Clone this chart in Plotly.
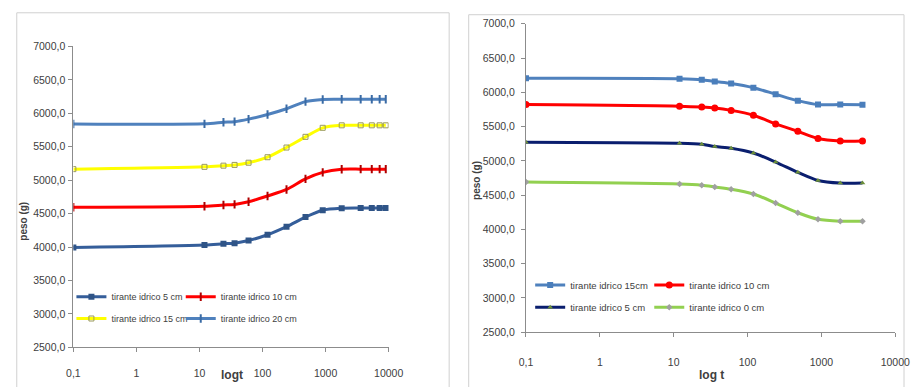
import plotly.graph_objects as go

W, H = 920, 387

# ---------------- data ----------------
# left chart
t_left = [0.1, 12, 24, 36, 60, 120, 240, 480, 900, 1800, 3600, 5400, 7200, 9000]
left_5cm = [3995, 4030, 4050, 4058, 4097, 4184, 4304, 4449, 4551, 4580, 4583, 4585, 4585, 4585]
left_10cm = [4595, 4609, 4629, 4638, 4677, 4764, 4861, 5020, 5116, 5163, 5165, 5165, 5165, 5165]
left_15cm = [5165, 5199, 5217, 5228, 5261, 5343, 5488, 5648, 5783, 5820, 5820, 5820, 5820, 5820]
left_20cm = [5840, 5842, 5865, 5875, 5913, 5981, 6068, 6174, 6207, 6210, 6210, 6210, 6210, 6210]

# right chart
t_right = [0.1, 12, 24, 36, 60, 120, 240, 480, 900, 1800, 3600]
right_15cm = [6205, 6199, 6184, 6156, 6128, 6067, 5972, 5878, 5821, 5821, 5820]
right_10cm = [5821, 5798, 5784, 5770, 5736, 5666, 5539, 5431, 5327, 5290, 5290]
right_5cm = [5270, 5256, 5242, 5209, 5185, 5115, 4983, 4832, 4714, 4676, 4676]
right_0cm = [4690, 4662, 4644, 4620, 4587, 4517, 4385, 4243, 4148, 4120, 4120]

y_ticks = [2500, 3000, 3500, 4000, 4500, 5000, 5500, 6000, 6500, 7000]
y_tick_text = ["2500,0", "3000,0", "3500,0", "4000,0", "4500,0", "5000,0", "5500,0", "6000,0", "6500,0", "7000,0"]
x_ticks = [0.1, 1, 10, 100, 1000, 10000]
x_tick_text = ["0,1", "1", "10", "100", "1000", "10000"]

FONT = "Liberation Sans, Arial, sans-serif"
TXT = "#404040"


def px(x):
    return x / W


def py(y):
    return 1 - y / H


fig = go.Figure()

left_series = [
    ("tirante idrico 5 cm", left_5cm, "#355E9A", dict(symbol="square", size=6, color="#2F5487"), "legend", (66, 300), 9),
    ("tirante idrico 10 cm", left_10cm, "#FF0000", dict(symbol="line-ns", size=6, color="#B00000", line=dict(width=2, color="#B00000")), "legend2", (178, 300), 9),
    ("tirante idrico 15 cm", left_15cm, "#FFFF00", dict(symbol="square-open", size=5, color="#9A9A5A", line=dict(width=1, color="#9A9A5A")), "legend3", (66, 322.5), 9),
    ("tirante idrico 20 cm", left_20cm, "#4F81BD", dict(symbol="line-ns", size=6, color="#3A6BA5", line=dict(width=2, color="#3A6BA5")), "legend4", (178, 322.5), 9),
]
for name, ys, col, mk, lg, _, _ in left_series:
    fig.add_trace(go.Scatter(x=t_left, y=ys, name=name, mode="lines+markers",
                             line=dict(color=col, width=3, shape="spline", smoothing=0.8),
                             marker=mk, xaxis="x", yaxis="y", legend=lg))

right_series = [
    ("tirante idrico 15cm", right_15cm, "#4F81BD", dict(symbol="square", size=6, color="#4A7EBB"), "legend5", (536, 288), 9.5),
    ("tirante idrico 10 cm", right_10cm, "#FF0000", dict(symbol="circle", size=7, color="#FF0000"), "legend6", (658, 288), 9.5),
    ("tirante idrico 5 cm", right_5cm, "#0A1E6E", dict(symbol="triangle-up", size=5, color="#6B8E3A"), "legend7", (536, 311), 9.5),
    ("tirante idrico 0 cm", right_0cm, "#92D050", dict(symbol="diamond", size=5, color="#A0A0A0"), "legend8", (658, 311), 9.5),
]
for name, ys, col, mk, lg, _, _ in right_series:
    fig.add_trace(go.Scatter(x=t_right, y=ys, name=name, mode="lines+markers",
                             line=dict(color=col, width=3, shape="spline", smoothing=0.8),
                             marker=mk, xaxis="x2", yaxis="y2", legend=lg))

axis_common = dict(showgrid=False, zeroline=False, showline=True, linecolor="#8C8C8C", linewidth=1,
                   ticks="outside", ticklen=4, tickcolor="#8C8C8C",
                   tickfont=dict(family=FONT, size=10.5, color=TXT))

fig.update_layout(
    width=W, height=H,
    margin=dict(l=0, r=0, t=0, b=0),
    paper_bgcolor="white", plot_bgcolor="white",
    showlegend=True,
    xaxis=dict(type="log", range=[-1, 4], domain=[px(68), px(391)], anchor="y",
               tickvals=x_ticks, ticktext=x_tick_text, ticklabelstandoff=12, **axis_common),
    yaxis=dict(range=[2500, 7000], domain=[py(352.3), py(41.7)], anchor="x",
               tickvals=y_ticks, ticktext=y_tick_text, ticklabelstandoff=1, **axis_common),
    xaxis2=dict(type="log", range=[-1, 4], domain=[px(531.7), px(910)], anchor="y2",
                tickvals=x_ticks, ticktext=x_tick_text, ticklabelstandoff=16, **axis_common),
    yaxis2=dict(range=[2500, 7000], domain=[py(336.7), py(18.3)], anchor="x2",
                tickvals=y_ticks, ticktext=y_tick_text, ticklabelstandoff=4, **axis_common),
)

# one legend per entry, placed like the original two-column legends
for _, _, _, _, lg, (lx, ly), fs in left_series + right_series:
    fig.update_layout({lg: dict(x=px(lx), y=py(ly), xanchor="left", yanchor="middle",
                                xref="paper", yref="paper", bgcolor="rgba(0,0,0,0)",
                                borderwidth=0, font=dict(family=FONT, size=fs, color=TXT))})

# chart frames
fig.add_shape(type="rect", xref="paper", yref="paper", x0=px(10), x1=px(453), y0=py(400), y1=py(7),
              line=dict(color="#D0D0D0", width=1), fillcolor="rgba(0,0,0,0)", layer="below")
fig.add_shape(type="rect", xref="paper", yref="paper", x0=px(473), x1=px(919), y0=py(400), y1=py(9),
              line=dict(color="#D0D0D0", width=1), fillcolor="rgba(0,0,0,0)", layer="below")

# axis titles
ann = dict(xref="paper", yref="paper", showarrow=False, xanchor="center", yanchor="middle")
fig.add_annotation(text="<b>peso (g)</b>", x=px(17), y=py(222), textangle=-90,
                   font=dict(family=FONT, size=10, color=TXT), **ann)
fig.add_annotation(text="<b>logt</b>", x=px(230), y=py(381),
                   font=dict(family=FONT, size=12, color=TXT), **ann)
fig.add_annotation(text="<b>peso (g)</b>", x=px(481), y=py(180), textangle=-90,
                   font=dict(family=FONT, size=10, color=TXT), **ann)
fig.add_annotation(text="<b>log t</b>", x=px(722), y=py(381),
                   font=dict(family=FONT, size=12, color=TXT), **ann)

fig.write_html("out.html")
